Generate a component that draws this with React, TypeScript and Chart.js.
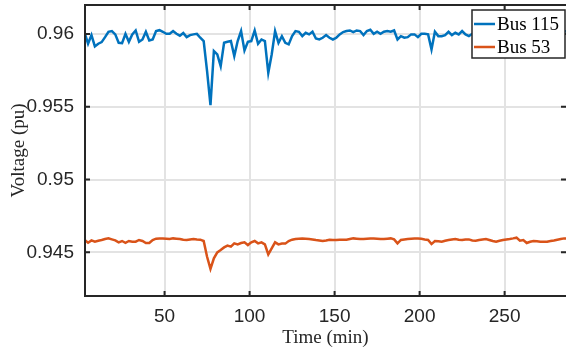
import React, { useEffect, useRef } from 'react';
import { Chart, registerables } from 'chart.js';

Chart.register(...registerables);

// Time axis (min)
const timeMin = [
  3, 5, 7, 9, 11, 13, 15, 17, 19, 21, 23, 25, 27, 29, 31, 33, 35, 37, 39, 41,
  43, 45, 47, 49, 51, 53, 55, 57, 59, 61, 63, 65, 67, 69, 71, 73, 75, 77, 79, 81,
  83, 85, 87, 89, 91, 93, 95, 97, 99, 101, 103, 105, 107, 109, 111, 113, 115, 117, 119, 121,
  123, 125, 127, 129, 131, 133, 135, 137, 139, 141, 143, 145, 147, 149, 151, 153, 155, 157, 159, 161,
  163, 165, 167, 169, 171, 173, 175, 177, 179, 181, 183, 185, 187, 189, 191, 193, 195, 197, 199, 201,
  203, 205, 207, 209, 211, 213, 215, 217, 219, 221, 223, 225, 227, 229, 231, 233, 235, 237, 239, 241,
  243, 245, 247, 249, 251, 253, 255, 257, 259, 261, 263, 265, 267, 269, 271, 273, 275, 277, 279, 281,
  283, 285, 287,
];

// Bus 115 voltage (pu)
const bus115 = [
  0.96009, 0.95934, 0.95993, 0.95915, 0.95934, 0.95945, 0.95979, 0.96016, 0.96021, 0.95998,
  0.9594, 0.95938, 0.96002, 0.95947, 0.95998, 0.96025, 0.95947, 0.95963, 0.96016, 0.95956,
  0.95963, 0.96021, 0.96027, 0.96016, 0.96002, 0.96002, 0.96021, 0.96002, 0.95989, 0.96007,
  0.95979, 0.95993, 0.95998, 0.96002, 0.95975, 0.95952, 0.95746, 0.95512, 0.95883, 0.9586,
  0.9578, 0.9594, 0.95947, 0.95952, 0.95849, 0.95952, 0.96021, 0.95888, 0.95947, 0.95952,
  0.96025, 0.95934, 0.95963, 0.95952, 0.95734, 0.9586, 0.96021, 0.9594, 0.95986, 0.9594,
  0.95929, 0.95986, 0.96021, 0.96016, 0.95986, 0.96009, 0.95998, 0.96016, 0.9597, 0.95963,
  0.95975, 0.95993, 0.95975, 0.95963, 0.95975, 0.95998, 0.96014, 0.96021, 0.96025, 0.96014,
  0.96025, 0.96021, 0.95993, 0.96021, 0.9603, 0.96002, 0.96016, 0.96002, 0.96016, 0.96021,
  0.96016, 0.96025, 0.95963, 0.95986, 0.95975, 0.95979, 0.95998, 0.95998, 0.95979, 0.96002,
  0.96002, 0.95998, 0.95895, 0.96016, 0.95986, 0.95986, 0.95993, 0.96016, 0.95993, 0.96009,
  0.95998, 0.96021, 0.95998, 0.95986, 0.96002, 0.9601, 0.95995, 0.96012, 0.96005, 0.95998,
  0.96015, 0.96008, 0.96, 0.96012, 0.96018, 0.96005, 0.95992, 0.9601, 0.96015, 0.96002,
  0.96008, 0.96016, 0.96004, 0.95996, 0.9601, 0.96014, 0.96006, 0.96012, 0.96002, 0.96015,
  0.9602, 0.96018, 0.9602,
];

// Bus 53 voltage (pu)
const bus53 = [
  0.94585, 0.94566, 0.94582, 0.94573, 0.9458, 0.94585, 0.94592, 0.94596, 0.94589, 0.94582,
  0.94569, 0.94578, 0.94566, 0.94578, 0.94573, 0.94573, 0.94585, 0.94578, 0.94564, 0.94564,
  0.94585, 0.94594, 0.94596, 0.94596, 0.94594, 0.94592, 0.94596, 0.94594, 0.94592, 0.94587,
  0.94585, 0.94589, 0.94592, 0.94589, 0.94587, 0.94578, 0.9447, 0.94386, 0.94459, 0.945,
  0.94516, 0.94534, 0.94546, 0.94539, 0.94562, 0.94555, 0.94564, 0.94569, 0.9455, 0.94569,
  0.94578, 0.94562, 0.94569, 0.94555, 0.94486, 0.94527, 0.94569, 0.94555, 0.9456, 0.9456,
  0.94578, 0.94587, 0.94592, 0.94594, 0.94596, 0.94594, 0.94592, 0.94589, 0.94585, 0.94582,
  0.94578, 0.94582, 0.94587, 0.94585, 0.94585, 0.94587, 0.94587, 0.94587, 0.94592, 0.94596,
  0.94594, 0.94592, 0.94592, 0.94594, 0.94596, 0.94596, 0.94594, 0.94592, 0.94592, 0.94594,
  0.94596, 0.94589, 0.94562, 0.94585, 0.94589, 0.94592, 0.94594, 0.94596, 0.94596, 0.94594,
  0.94589, 0.94585, 0.94557, 0.94578, 0.94576, 0.94573, 0.9458, 0.94585, 0.94589, 0.94592,
  0.94587, 0.94585, 0.94589, 0.94589, 0.94582, 0.9458, 0.94585, 0.94589, 0.94592, 0.94585,
  0.94578, 0.94573, 0.9458, 0.94585, 0.94589, 0.94592, 0.94596, 0.94601, 0.9458, 0.94585,
  0.94564, 0.94573, 0.94578, 0.94576, 0.94573, 0.94573, 0.94573, 0.94578, 0.94582, 0.94587,
  0.94592, 0.94596, 0.94596,
];

const xTicks = [50, 100, 150, 200, 250];
const yTicks = [0.945, 0.95, 0.955, 0.96];
const seriesNames = ['Bus 115', 'Bus 53'];
const seriesColors = ['#0072BD', '#D95319'];

const AXIS_COLOR = '#262626';
const GRID_COLOR = '#e3e3e3';

export default function App() {
  const ref = useRef<HTMLCanvasElement>(null);

  useEffect(() => {
    const canvas = ref.current;
    if (!canvas) return;

    const boxPlugin = {
      id: 'matlabBox',
      afterDatasetsDraw(chart: any) {
        const { ctx, chartArea: a, scales } = chart;
        ctx.save();
        ctx.strokeStyle = AXIS_COLOR;
        ctx.lineWidth = 2;
        ctx.beginPath();
        ctx.moveTo(a.left, a.top);
        ctx.lineTo(a.right, a.top);
        ctx.moveTo(a.left, a.bottom);
        ctx.lineTo(a.right, a.bottom);
        ctx.moveTo(a.left, a.top - 1);
        ctx.lineTo(a.left, a.bottom + 1);
        ctx.stroke();

        const tl = 5;
        ctx.beginPath();
        for (const v of xTicks) {
          const px = scales.x.getPixelForValue(v);
          ctx.moveTo(px, a.bottom);
          ctx.lineTo(px, a.bottom - tl);
          ctx.moveTo(px, a.top);
          ctx.lineTo(px, a.top + tl);
        }
        for (const v of yTicks) {
          const py = scales.y.getPixelForValue(v);
          ctx.moveTo(a.left, py);
          ctx.lineTo(a.left + tl, py);
          ctx.moveTo(a.right, py);
          ctx.lineTo(a.right - tl, py);
        }
        ctx.stroke();

        // legend box (inside axes, top-right)
        const bx = 472;
        const by = a.top + 5;
        const bw = a.right - 1 - bx;
        const bh = 48;
        ctx.fillStyle = '#ffffff';
        ctx.fillRect(bx, by, bw, bh);
        ctx.lineWidth = 1.5;
        ctx.strokeStyle = AXIS_COLOR;
        ctx.strokeRect(bx, by, bw, bh);
        ctx.font = '19px "Liberation Serif", "Times New Roman", serif';
        ctx.textBaseline = 'middle';
        ctx.textAlign = 'left';
        seriesNames.forEach((name, i) => {
          const cy = by + 14 + i * 23;
          ctx.strokeStyle = seriesColors[i];
          ctx.lineWidth = 2.5;
          ctx.beginPath();
          ctx.moveTo(bx + 2, cy);
          ctx.lineTo(bx + 23, cy);
          ctx.stroke();
          ctx.fillStyle = '#000000';
          ctx.fillText(name, bx + 25, cy + 1);
        });
        ctx.restore();
      },
    };

    const chart = new Chart(canvas, {
      type: 'line',
      data: {
        labels: timeMin,
        datasets: [
          {
            label: seriesNames[0],
            data: timeMin.map((t, i) => ({ x: t, y: bus115[i] })),
            borderColor: seriesColors[0],
            backgroundColor: seriesColors[0],
            borderWidth: 2.5,
            pointRadius: 0,
            tension: 0,
          },
          {
            label: seriesNames[1],
            data: timeMin.map((t, i) => ({ x: t, y: bus53[i] })),
            borderColor: seriesColors[1],
            backgroundColor: seriesColors[1],
            borderWidth: 2.5,
            pointRadius: 0,
            tension: 0,
          },
        ],
      },
      options: {
        responsive: false,
        maintainAspectRatio: false,
        devicePixelRatio: 1,
        animation: false,
        layout: { padding: { top: 5, right: 0, left: 0, bottom: 0 } },
        plugins: {
          legend: { display: false },
          tooltip: { enabled: false },
        },
        scales: {
          x: {
            type: 'linear',
            min: 3.2,
            max: 286.1,
            afterBuildTicks: (s: any) => {
              s.ticks = xTicks.map((v) => ({ value: v }));
            },
            afterFit: (s: any) => {
              s.height = 56;
              s.paddingLeft = 0;
              s.paddingRight = 0;
            },
            grid: { color: GRID_COLOR, lineWidth: 2, drawTicks: false },
            border: { display: false },
            ticks: {
              color: AXIS_COLOR,
              padding: 9,
              maxRotation: 0,
              autoSkip: false,
              font: { family: '"Liberation Sans", Arial, sans-serif', size: 19 },
              callback: (v: any) => String(v),
            },
            title: {
              display: true,
              text: 'Time (min)',
              color: AXIS_COLOR,
              font: { family: '"Liberation Serif", "Times New Roman", serif', size: 19 },
              padding: { top: 0, bottom: 3 },
            },
          },
          y: {
            type: 'linear',
            min: 0.942,
            max: 0.962,
            afterBuildTicks: (s: any) => {
              s.ticks = yTicks.map((v) => ({ value: v }));
            },
            afterFit: (s: any) => {
              s.width = 85;
              s.paddingTop = 0;
              s.paddingBottom = 0;
            },
            grid: { color: GRID_COLOR, lineWidth: 2, drawTicks: false },
            border: { display: false },
            ticks: {
              color: AXIS_COLOR,
              padding: 11,
              autoSkip: false,
              font: { family: '"Liberation Sans", Arial, sans-serif', size: 19 },
              callback: (v: any) => String(v),
            },
            title: {
              display: true,
              text: 'Voltage (pu)',
              color: AXIS_COLOR,
              font: { family: '"Liberation Serif", "Times New Roman", serif', size: 19 },
              padding: { top: 8, bottom: 0 },
            },
          },
        },
      },
      plugins: [boxPlugin],
    } as any);

    return () => {
      chart.destroy();
    };
  }, []);

  return (
    <div style={{ position: 'fixed', left: 0, top: 0, width: 566, height: 352, background: '#ffffff' }}>
      <canvas ref={ref} width={566} height={352} style={{ display: 'block' }} />
    </div>
  );
}
